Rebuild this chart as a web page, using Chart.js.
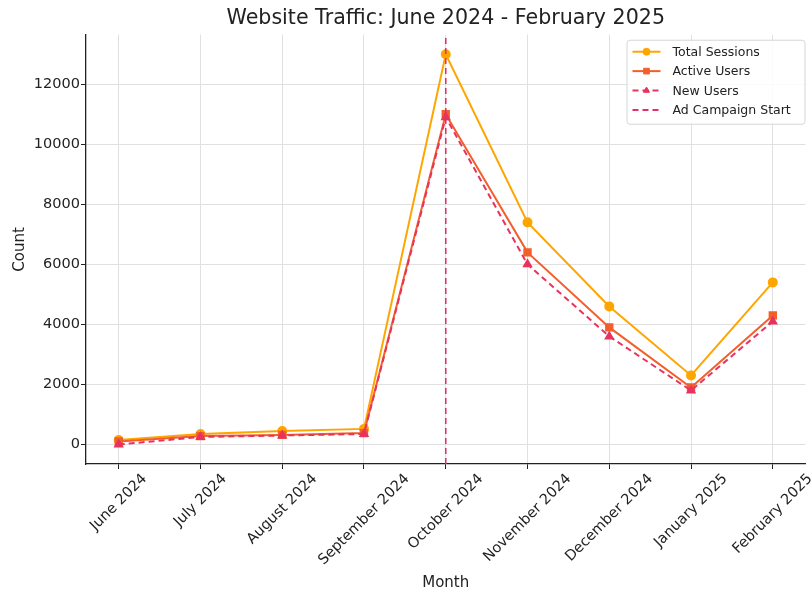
<!DOCTYPE html>
<html>
<head>
<meta charset="utf-8">
<script src="https://cdn.jsdelivr.net/npm/chart.js@4.4.1/dist/chart.umd.min.js"></script>
<style>
  html, body { margin: 0; padding: 0; background: #ffffff; }
  #wrap { width: 812px; height: 592px; position: relative; }
</style>
</head>
<body>
<div id="wrap"><canvas id="c" width="812" height="592"></canvas></div>
<script>
// ---- Data ----
const months = ["June 2024", "July 2024", "August 2024", "September 2024", "October 2024",
                "November 2024", "December 2024", "January 2025", "February 2025"];
const totalSessions = [150, 350, 450, 520, 13000, 7400, 4600, 2300, 5400];
const activeUsers   = [100, 280, 320, 380, 11000, 6400, 3900, 1900, 4300];
const newUsers      = [0, 250, 300, 350, 10900, 6000, 3600, 1800, 4100];
const adCampaignMonth = "October 2024";
const yTicks = [0, 2000, 4000, 6000, 8000, 10000, 12000];
const yMin = -650, yMax = 13650;

const FONT = "'DejaVu Sans', 'Liberation Sans', sans-serif";
const toXY = arr => arr.map((v, i) => ({ x: i, y: v }));
const campaignIdx = months.indexOf(adCampaignMonth);

const COL_TOTAL = '#FFA500';
const COL_ACTIVE = '#F25F2A';
const COL_NEW = '#E8335E';
const COL_CAMP = '#E0306A';
const TICK_FONT = 14.5;

// x tick labels, matplotlib style: rotated 45°, centred on the tick
const xLabelPlugin = {
  id: 'xLabels',
  afterDraw(chart) {
    const ctx = chart.ctx, xs = chart.scales.x;
    const top = chart.chartArea.bottom + 7;
    ctx.save();
    ctx.font = TICK_FONT + 'px ' + FONT;
    ctx.fillStyle = '#222';
    ctx.textAlign = 'center';
    ctx.textBaseline = 'middle';
    xs.ticks.forEach(t => {
      const label = months[t.value];
      if (!label) return;
      const w = ctx.measureText(label).width;
      const h = TICK_FONT * 1.1;
      const ext = (w + h) / Math.SQRT2;
      const px = xs.getPixelForValue(t.value);
      ctx.save();
      ctx.translate(px, top + ext / 2);
      ctx.rotate(-Math.PI / 4);
      ctx.fillText(label, 0, 0);
      ctx.restore();
    });
    ctx.restore();
  }
};

// Custom legend (matplotlib-like), drawn with dataset styles
const legendPlugin = {
  id: 'mplLegend',
  afterDraw(chart) {
    const ctx = chart.ctx, ca = chart.chartArea;
    const w = 178, h = 84;
    const bx = ca.right - w - 1, by = ca.top + 5;
    ctx.save();
    ctx.fillStyle = 'rgba(255,255,255,0.85)';
    ctx.strokeStyle = '#d6d6d6';
    ctx.lineWidth = 1;
    ctx.beginPath();
    ctx.roundRect(bx + 0.5, by + 0.5, w, h, 3);
    ctx.fill(); ctx.stroke();
    const items = chart.data.datasets.slice().sort((a, b) => a.legendOrder - b.legendOrder);
    items.forEach((ds, i) => {
      const cy = by + 12 + i * 19.4;
      const x0 = bx + 6, x1 = bx + 34, cx = (x0 + x1) / 2;
      ctx.strokeStyle = ds.borderColor;
      ctx.lineWidth = 2;
      ctx.setLineDash(ds.borderDash || []);
      ctx.beginPath(); ctx.moveTo(x0, cy); ctx.lineTo(x1, cy); ctx.stroke();
      ctx.setLineDash([]);
      if (ds.pointStyle && ds.pointRadius > 0) {
        ctx.fillStyle = ds.pointBackgroundColor;
        ctx.strokeStyle = ds.pointBorderColor;
        ctx.lineWidth = 1;
        Chart.helpers.drawPoint(ctx, {pointStyle: ds.pointStyle, radius: ds.pointRadius - 0.5, rotation: 0, borderWidth: 1}, cx, cy);
      }
      ctx.fillStyle = '#222';
      ctx.font = '12.5px ' + FONT;
      ctx.textBaseline = 'middle';
      ctx.textAlign = 'left';
      ctx.fillText(ds.label, bx + 46, cy + 1);
    });
    ctx.restore();
  }
};

new Chart(document.getElementById('c'), {
  type: 'line',
  data: {
    datasets: [
      {
        label: 'Total Sessions', data: toXY(totalSessions), legendOrder: 0, order: 4,
        borderColor: COL_TOTAL, backgroundColor: COL_TOTAL, borderWidth: 2,
        pointStyle: 'circle', pointRadius: 4, pointBackgroundColor: COL_TOTAL, pointBorderColor: COL_TOTAL,
        tension: 0
      },
      {
        label: 'Active Users', data: toXY(activeUsers), legendOrder: 1, order: 3,
        borderColor: COL_ACTIVE, backgroundColor: COL_ACTIVE, borderWidth: 2,
        pointStyle: 'rect', pointRadius: 4.5, pointBackgroundColor: COL_ACTIVE, pointBorderColor: COL_ACTIVE,
        tension: 0
      },
      {
        label: 'New Users', data: toXY(newUsers), legendOrder: 2, order: 2,
        borderColor: COL_NEW, backgroundColor: COL_NEW, borderWidth: 2, borderDash: [6, 4],
        pointStyle: 'triangle', pointRadius: 4, pointBackgroundColor: COL_NEW, pointBorderColor: COL_NEW,
        tension: 0
      },
      {
        label: 'Ad Campaign Start', data: [{ x: campaignIdx, y: yMin }, { x: campaignIdx, y: yMax }],
        legendOrder: 3, order: 1,
        borderColor: COL_CAMP, backgroundColor: COL_CAMP, borderWidth: 1.6, borderDash: [6, 4],
        pointRadius: 0, pointStyle: false, tension: 0
      }
    ]
  },
  options: {
    responsive: false,
    animation: false,
    layout: { padding: { left: 0, right: 6, top: 0, bottom: 0 } },
    plugins: {
      legend: { display: false },
      tooltip: { enabled: false },
      title: {
        display: true, text: 'Website Traffic: June 2024 - February 2025', fullSize: false,
        color: '#222', font: { family: FONT, size: 20.6, weight: 'normal' },
        padding: { top: 6, bottom: 4 }
      }
    },
    scales: {
      x: {
        type: 'linear', min: -0.4, max: 8.4,
        afterBuildTicks: s => { s.ticks = months.map((m, i) => ({ value: i })); },
        afterFit: s => { s.height = 128; },
        ticks: { display: false, autoSkip: false, callback: v => months[v] || '' },
        grid: { color: '#e0e0e0', borderDash: [4, 2], tickColor: '#222', tickLength: 5, tickBorderDash: [], lineWidth: 1 },
        border: { display: true, color: '#222', width: 1.3 },
        title: { display: true, text: 'Month', color: '#222', font: { family: FONT, size: 15 }, padding: { top: 0, bottom: 0 } }
      },
      y: {
        type: 'linear', min: yMin, max: yMax,
        afterBuildTicks: s => { s.ticks = yTicks.map(v => ({ value: v })); },
        afterFit: s => { s.width = 86; },
        ticks: { color: '#222', font: { family: FONT, size: TICK_FONT }, padding: 1, callback: v => String(v) },
        grid: { color: '#e0e0e0', borderDash: [4, 2], tickColor: '#222', tickLength: 5, tickBorderDash: [], lineWidth: 1 },
        border: { display: true, color: '#222', width: 1.3 },
        title: { display: true, text: 'Count', color: '#222', font: { family: FONT, size: 15 }, padding: { top: 11, bottom: 0 } }
      }
    }
  },
  plugins: [xLabelPlugin, legendPlugin]
});
</script>
</body>
</html>
